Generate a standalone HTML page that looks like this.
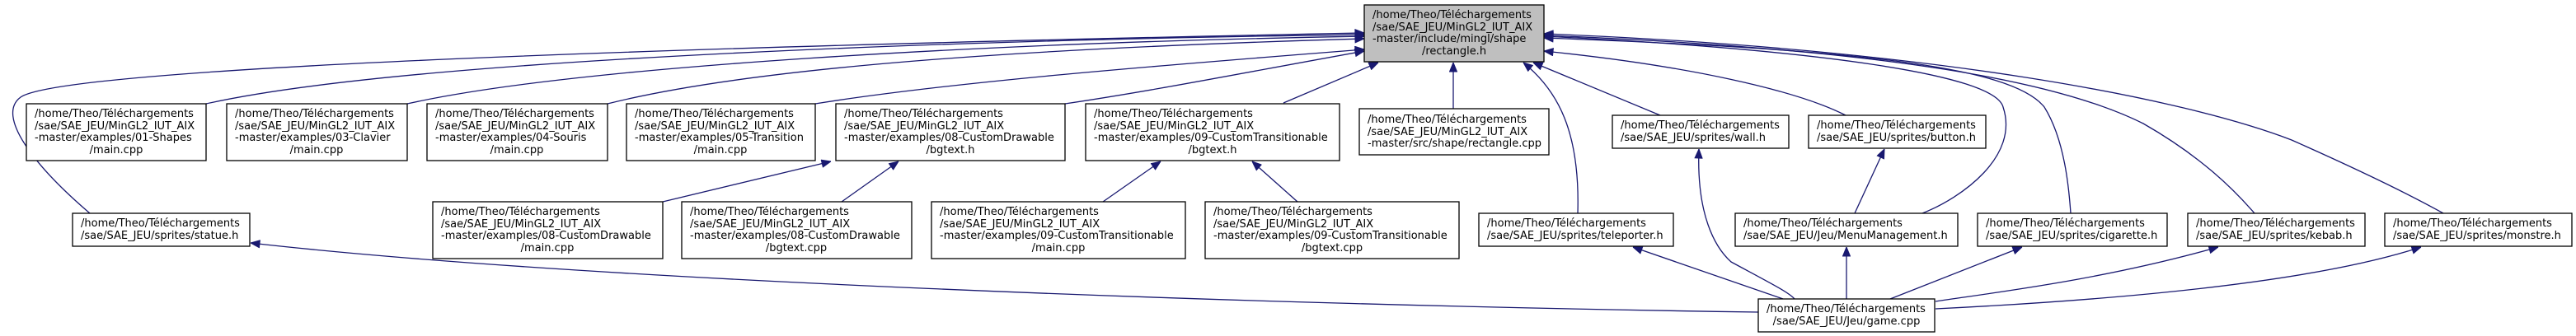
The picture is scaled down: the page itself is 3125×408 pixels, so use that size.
<!DOCTYPE html>
<html><head><meta charset="utf-8"><style>
html,body{margin:0;padding:0;background:#fff}
svg{display:block}
text{font-family:"DejaVu Sans","Liberation Sans",sans-serif;font-size:13px;fill:#000}
.b{fill:#fff;stroke:#000;stroke-width:1.3}
.e{fill:none;stroke:#191970;stroke-width:1.3}
</style></head><body>
<svg width="3125" height="408" viewBox="0 0 3125 408" xmlns="http://www.w3.org/2000/svg">
<defs><marker id="a" markerWidth="12" markerHeight="10" refX="0" refY="5" orient="auto" markerUnits="userSpaceOnUse"><path d="M0,5 L11,0.5 L11,9.5 Z" fill="#191970" stroke="#191970"/></marker></defs>
<g class="e">
<path marker-start="url(#a)" d="M1655,40 C900,55 80,80 25,118 C-5,140 40,200 109,259"/>
<path marker-start="url(#a)" d="M1655,42 C1200,48 500,70 250,126"/>
<path marker-start="url(#a)" d="M1655,44 C1200,52 700,80 494,126"/>
<path marker-start="url(#a)" d="M1655,47 C1200,60 900,85 737,126"/>
<path marker-start="url(#a)" d="M1655,60 C1400,80 1150,100 989,126"/>
<path marker-start="url(#a)" d="M1655,62 C1500,90 1400,110 1292,126"/>
<path marker-start="url(#a)" d="M1672,76 L1557,125"/>
<path marker-start="url(#a)" d="M1763,76 L1763,132"/>
<path marker-start="url(#a)" d="M1848,76 C1890,110 1917,160 1914,259"/>
<path marker-start="url(#a)" d="M1860,76 L2014,140"/>
<path marker-start="url(#a)" d="M1873,62 C2050,80 2180,110 2239,140"/>
<path marker-start="url(#a)" d="M1873,44 C2200,60 2420,90 2430,130 C2450,190 2380,240 2332,259"/>
<path marker-start="url(#a)" d="M1873,46 C2250,60 2440,80 2480,130 C2505,170 2510,230 2512,259"/>
<path marker-start="url(#a)" d="M1873,43 C2300,60 2500,100 2600,150 C2670,190 2710,230 2735,259"/>
<path marker-start="url(#a)" d="M1873,41 C2350,60 2650,120 2780,170 C2870,210 2930,240 2964,259"/>
<path marker-start="url(#a)" d="M1008,196 L804,245"/>
<path marker-start="url(#a)" d="M1090,196 L1021,245"/>
<path marker-start="url(#a)" d="M1408,196 L1338,245"/>
<path marker-start="url(#a)" d="M1519,196 L1574,245"/>
<path marker-start="url(#a)" d="M304,295 C700,340 1500,370 2133,379"/>
<path marker-start="url(#a)" d="M1981,300 L2163,363"/>
<path marker-start="url(#a)" d="M2061,181 C2058,260 2080,300 2100,318 C2150,345 2170,355 2177,363"/>
<path marker-start="url(#a)" d="M2240,300 L2240,363"/>
<path marker-start="url(#a)" d="M2453,300 L2293,363"/>
<path marker-start="url(#a)" d="M2691,300 C2550,340 2420,355 2348,366"/>
<path marker-start="url(#a)" d="M2937,300 C2800,345 2550,365 2348,375"/>
<path marker-start="url(#a)" d="M2286,181 L2250,259"/>
</g>
<rect x="1655" y="6" width="218" height="69" fill="#bfbfbf" stroke="#000" stroke-width="1.3"/>
<text x="1665" y="22">/home/Theo/Téléchargements</text>
<text x="1665" y="37">/sae/SAE_JEU/MinGL2_IUT_AIX</text>
<text x="1665" y="51">-master/include/mingl/shape</text>
<text x="1764" y="66" text-anchor="middle">/rectangle.h</text>
<g>
<rect class="b" x="32" y="126" width="218" height="69"/>
<text x="42" y="142">/home/Theo/Téléchargements</text><text x="42" y="157">/sae/SAE_JEU/MinGL2_IUT_AIX</text><text x="42" y="171">-master/examples/01-Shapes</text><text x="141" y="186" text-anchor="middle">/main.cpp</text>
<rect class="b" x="275" y="126" width="219" height="69"/>
<text x="285" y="142">/home/Theo/Téléchargements</text><text x="285" y="157">/sae/SAE_JEU/MinGL2_IUT_AIX</text><text x="285" y="171">-master/examples/03-Clavier</text><text x="384" y="186" text-anchor="middle">/main.cpp</text>
<rect class="b" x="518" y="126" width="219" height="69"/>
<text x="528" y="142">/home/Theo/Téléchargements</text><text x="528" y="157">/sae/SAE_JEU/MinGL2_IUT_AIX</text><text x="528" y="171">-master/examples/04-Souris</text><text x="627" y="186" text-anchor="middle">/main.cpp</text>
<rect class="b" x="760" y="126" width="229" height="69"/>
<text x="770" y="142">/home/Theo/Téléchargements</text><text x="770" y="157">/sae/SAE_JEU/MinGL2_IUT_AIX</text><text x="770" y="171">-master/examples/05-Transition</text><text x="874" y="186" text-anchor="middle">/main.cpp</text>
<rect class="b" x="1014" y="126" width="278" height="69"/>
<text x="1024" y="142">/home/Theo/Téléchargements</text><text x="1024" y="157">/sae/SAE_JEU/MinGL2_IUT_AIX</text><text x="1024" y="171">-master/examples/08-CustomDrawable</text><text x="1153" y="186" text-anchor="middle">/bgtext.h</text>
<rect class="b" x="1317" y="126" width="308" height="69"/>
<text x="1327" y="142">/home/Theo/Téléchargements</text><text x="1327" y="157">/sae/SAE_JEU/MinGL2_IUT_AIX</text><text x="1327" y="171">-master/examples/09-CustomTransitionable</text><text x="1471" y="186" text-anchor="middle">/bgtext.h</text>
<rect class="b" x="1649" y="132" width="230" height="56"/>
<text x="1659" y="149">/home/Theo/Téléchargements</text><text x="1659" y="164">/sae/SAE_JEU/MinGL2_IUT_AIX</text><text x="1659" y="178">-master/src/shape/rectangle.cpp</text>
<rect class="b" x="1956" y="140" width="214" height="40"/>
<text x="1966" y="156">/home/Theo/Téléchargements</text><text x="1966" y="171">/sae/SAE_JEU/sprites/wall.h</text>
<rect class="b" x="2194" y="140" width="215" height="40"/>
<text x="2204" y="156">/home/Theo/Téléchargements</text><text x="2204" y="171">/sae/SAE_JEU/sprites/button.h</text>
</g>
<g>
<rect class="b" x="88" y="259" width="215" height="40"/>
<text x="98" y="275">/home/Theo/Téléchargements</text><text x="98" y="290">/sae/SAE_JEU/sprites/statue.h</text>
<rect class="b" x="525" y="245" width="279" height="69"/>
<text x="535" y="261">/home/Theo/Téléchargements</text><text x="535" y="276">/sae/SAE_JEU/MinGL2_IUT_AIX</text><text x="535" y="290">-master/examples/08-CustomDrawable</text><text x="664" y="305" text-anchor="middle">/main.cpp</text>
<rect class="b" x="827" y="245" width="279" height="69"/>
<text x="837" y="261">/home/Theo/Téléchargements</text><text x="837" y="276">/sae/SAE_JEU/MinGL2_IUT_AIX</text><text x="837" y="290">-master/examples/08-CustomDrawable</text><text x="966" y="305" text-anchor="middle">/bgtext.cpp</text>
<rect class="b" x="1130" y="245" width="308" height="69"/>
<text x="1140" y="261">/home/Theo/Téléchargements</text><text x="1140" y="276">/sae/SAE_JEU/MinGL2_IUT_AIX</text><text x="1140" y="290">-master/examples/09-CustomTransitionable</text><text x="1284" y="305" text-anchor="middle">/main.cpp</text>
<rect class="b" x="1462" y="245" width="308" height="69"/>
<text x="1472" y="261">/home/Theo/Téléchargements</text><text x="1472" y="276">/sae/SAE_JEU/MinGL2_IUT_AIX</text><text x="1472" y="290">-master/examples/09-CustomTransitionable</text><text x="1616" y="305" text-anchor="middle">/bgtext.cpp</text>
<rect class="b" x="1794" y="259" width="236" height="40"/>
<text x="1804" y="275">/home/Theo/Téléchargements</text><text x="1804" y="290">/sae/SAE_JEU/sprites/teleporter.h</text>
<rect class="b" x="2105" y="259" width="270" height="40"/>
<text x="2115" y="275">/home/Theo/Téléchargements</text><text x="2115" y="290">/sae/SAE_JEU/Jeu/MenuManagement.h</text>
<rect class="b" x="2399" y="259" width="230" height="40"/>
<text x="2409" y="275">/home/Theo/Téléchargements</text><text x="2409" y="290">/sae/SAE_JEU/sprites/cigarette.h</text>
<rect class="b" x="2654" y="259" width="215" height="40"/>
<text x="2664" y="275">/home/Theo/Téléchargements</text><text x="2664" y="290">/sae/SAE_JEU/sprites/kebab.h</text>
<rect class="b" x="2893" y="259" width="227" height="40"/>
<text x="2903" y="275">/home/Theo/Téléchargements</text><text x="2903" y="290">/sae/SAE_JEU/sprites/monstre.h</text>
<rect class="b" x="2133" y="363" width="214" height="40"/>
<text x="2143" y="379">/home/Theo/Téléchargements</text><text x="2240" y="394" text-anchor="middle">/sae/SAE_JEU/Jeu/game.cpp</text>
</g>
</svg>
</body></html>
